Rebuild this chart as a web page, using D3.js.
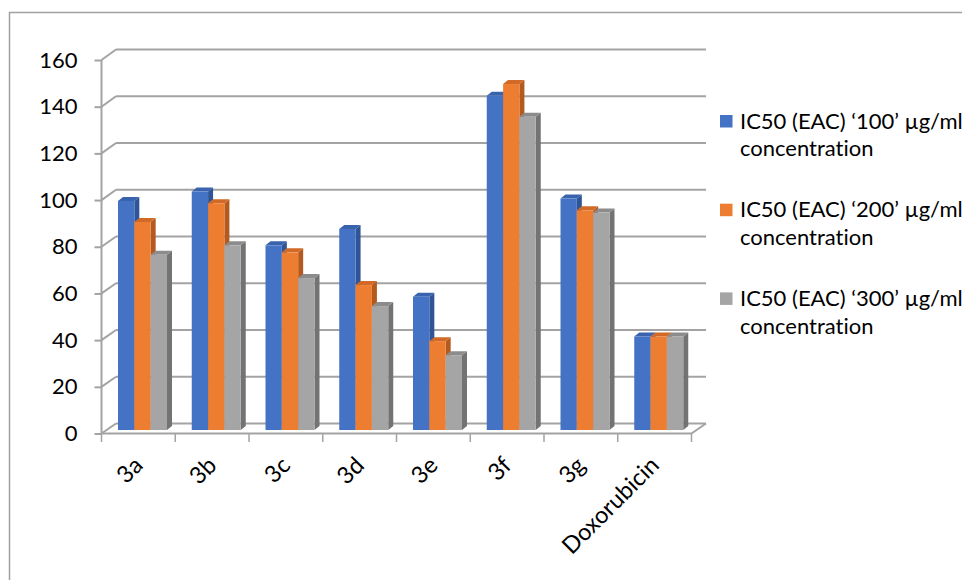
<!DOCTYPE html>
<html>
<head>
<meta charset="utf-8">
<script src="https://cdn.jsdelivr.net/npm/d3@7"></script>
<style>
  html, body { margin: 0; padding: 0; background: #fff; }
  svg { display: block; font-family: Lato, "Open Sans", sans-serif; font-variant-ligatures: none; font-feature-settings: "liga" 0, "clig" 0; }
</style>
</head>
<body>
<svg id="chart" width="962" height="580"></svg>
<script>
// Compounds on the category axis
const categories = ["3a", "3b", "3c", "3d", "3e", "3f", "3g", "Doxorubicin"];
// IC50 values per concentration series
const seriesNames = [
  "IC50 (EAC) \u2018100\u2019 \u00b5g/ml concentration",
  "IC50 (EAC) \u2018200\u2019 \u00b5g/ml concentration",
  "IC50 (EAC) \u2018300\u2019 \u00b5g/ml concentration"
];
const ic50_100 = [98, 102, 79, 86, 57, 143, 99, 40];
const ic50_200 = [89, 97, 76, 62, 38, 148, 94, 40];
const ic50_300 = [75, 79, 65, 53, 32, 134, 93, 40];
const yTicks = [0, 20, 40, 60, 80, 100, 120, 140, 160];

const seriesValues = [ic50_100, ic50_200, ic50_300];
const colors = ["#4472C4", "#ED7D31", "#A5A5A5"];
const sideColors = ["#2F5597", "#B45A1E", "#737373"];
const topColors = ["#3A63AD", "#D06A26", "#8C8C8C"];

const svg = d3.select("#chart");
const gridColor = "#a3a3a3";

// Outer chart frame (top and left edges visible)
svg.append("rect")
  .attr("x", 9.5).attr("y", 12.5).attr("width", 1000).attr("height", 600)
  .attr("fill", "none").attr("stroke", "#a0a0a0").attr("stroke-width", 1.5);

// 3D projection: front plane, back wall offset, bars sit mid-depth
const depth = { dx: 14.5, dy: -10.5 };
const x = d3.scaleBand().domain(categories).range([101.5, 691.5]).padding(0);
const xs = d3.scaleBand().domain(d3.range(3)).range([16.5, 16.5 + 49]).padding(0);
const yFront = d3.scaleLinear().domain([0, 160]).range([433.5, 60]);
const yBack = d3.scaleLinear().domain([0, 160]).range([423.5, 49.5]);
const yBar = d3.scaleLinear().domain([0, 160]).range([430, 56]);

const backL = x.range()[0] + depth.dx;
const backR = x.range()[1] + depth.dx;

// Back wall gridlines
svg.append("g").selectAll("line").data(yTicks).join("line")
  .attr("x1", backL).attr("x2", backR)
  .attr("y1", d => yBack(d)).attr("y2", d => yBack(d))
  .attr("stroke", gridColor).attr("stroke-width", 2);

// Side wall diagonals joining the axis to the back wall
svg.append("g").selectAll("line").data(yTicks).join("line")
  .attr("x1", x.range()[0]).attr("y1", d => yFront(d))
  .attr("x2", backL).attr("y2", d => yBack(d))
  .attr("stroke", gridColor).attr("stroke-width", 2);

// Floor: right edge diagonal
svg.append("line")
  .attr("x1", x.range()[1]).attr("y1", yFront(0))
  .attr("x2", backR).attr("y2", yBack(0))
  .attr("stroke", gridColor).attr("stroke-width", 2);

// Value axis
const yAxis = d3.axisLeft(yFront).tickValues(yTicks).tickSize(7).tickPadding(17);
const gy = svg.append("g").attr("transform", `translate(${x.range()[0]},0)`).call(yAxis);
gy.select(".domain").attr("stroke", gridColor).attr("stroke-width", 2).attr("d", `M0,${yFront(160)}V${yFront(0)}`);
gy.selectAll(".tick line").attr("stroke", gridColor).attr("stroke-width", 2);
gy.selectAll(".tick text").attr("font-size", 22).attr("fill", "#000").attr("font-family", "Lato, sans-serif");

// Bars, drawn per category from left to right so faces overlap correctly
const bd = { dx: 5, dy: -4 };
const barData = [];
categories.forEach((c, i) => {
  seriesValues.forEach((vals, j) => {
    barData.push({ cat: c, s: j, v: vals[i] });
  });
});
const bars = svg.append("g").selectAll("g").data(barData).join("g");
bars.each(function(d) {
  const g = d3.select(this);
  const x0 = x(d.cat) + xs(d.s);
  const w = xs.bandwidth();
  const yt = yBar(d.v);
  const yb = yBar(0);
  // right side face
  g.append("path")
    .attr("d", `M${x0 + w},${yt}L${x0 + w + bd.dx},${yt + bd.dy}L${x0 + w + bd.dx},${yb + bd.dy}L${x0 + w},${yb}Z`)
    .attr("fill", sideColors[d.s]);
  // top face
  g.append("path")
    .attr("d", `M${x0},${yt}L${x0 + bd.dx},${yt + bd.dy}L${x0 + w + bd.dx},${yt + bd.dy}L${x0 + w},${yt}Z`)
    .attr("fill", topColors[d.s]);
  // front face
  g.append("rect")
    .attr("x", x0).attr("y", yt).attr("width", w).attr("height", yb - yt)
    .attr("fill", colors[d.s]);
});

// Category axis with floor front edge
const xAxis = d3.axisBottom(x).tickSize(8.5).tickFormat("");
const gx = svg.append("g").attr("transform", `translate(0,${yFront(0)})`).call(xAxis);
gx.select(".domain").attr("stroke", gridColor).attr("stroke-width", 2)
  .attr("d", `M${x.range()[0]},0H${x.range()[1]}`);
// ticks at category boundaries
gx.selectAll(".tick").remove();
const bounds = categories.map(c => x(c)).concat([x.range()[1]]);
gx.selectAll(".bnd").data(bounds).join("line").attr("class", "bnd")
  .attr("x1", d => d).attr("x2", d => d).attr("y1", 0).attr("y2", 8.5)
  .attr("stroke", gridColor).attr("stroke-width", 1.5);

// Rotated category labels
svg.append("g").selectAll("text").data(categories).join("text")
  .attr("transform", d => `translate(${x(d) + x.bandwidth() / 2},461) rotate(-45)`)
  .attr("text-anchor", "end").attr("dy", "0.35em")
  .attr("font-size", 23.5).attr("fill", "#000")
  .text(d => d);

// Legend
const legend = svg.append("g").selectAll("g").data(seriesNames).join("g")
  .attr("transform", (d, i) => `translate(720,${115 + i * 88.7})`);
legend.append("rect").attr("width", 12.5).attr("height", 12.5).attr("fill", (d, i) => colors[i]);
legend.append("text").attr("x", 20).attr("y", 13.5)
  .attr("font-size", 22).attr("fill", "#000")
  .selectAll("tspan").data(d => {
    const k = d.lastIndexOf(" ");
    return [d.slice(0, k), d.slice(k + 1)];
  }).join("tspan")
  .attr("x", 20).attr("dy", (d, i) => i === 0 ? 0 : 27.7)
  .text(d => d);
</script>
</body>
</html>
